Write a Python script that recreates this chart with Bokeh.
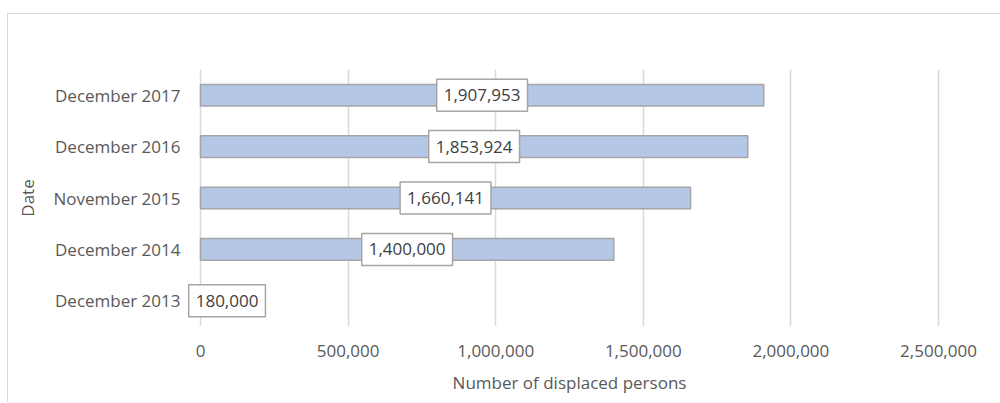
from bokeh.plotting import figure
from bokeh.models import (FactorRange, Range1d, ColumnDataSource, NumeralTickFormatter,
                          FixedTicker, Label, GlobalInlineStyleSheet)
from bokeh.embed import file_html
from bokeh.resources import INLINE

dates = ["December 2013", "December 2014", "November 2015", "December 2016", "December 2017"]
displaced = [180000, 1400000, 1660141, 1853924, 1907953]
x_ticks = [0, 500000, 1000000, 1500000, 2000000, 2500000]

FONT = "Open Sans"
TXT = "#595959"

src = ColumnDataSource(dict(date=dates, val=displaced))

# value axis padded by 20 px on both sides so labels near 0 are not clipped
x_max = x_ticks[-1]
pad = x_max * 20 / 738

y_range = FactorRange(*dates, range_padding=0)
p = figure(width=1000, height=389, output_backend="svg", toolbar_location=None,
           y_range=y_range,
           x_range=Range1d(-pad, x_max + pad),
           min_border_left=172, min_border_right=50, min_border_top=55, min_border_bottom=77)
p.margin = (13, 0, 0, 7)
p.styles = {"border-top": "1px solid #D9D9D9", "border-left": "1px solid #D9D9D9"}
p.stylesheets = [GlobalInlineStyleSheet(css="html, body { overflow: hidden; margin: 0; }")]
p.outline_line_color = None
p.background_fill_color = "white"
p.border_fill_color = "white"

p.hbar(y="date", right="val", left=0, height=0.42, source=src,
       fill_color="#B4C7E7", line_color="#A5A5A5", line_width=1.5)

# category centres on the factor range's synthetic axis (factor i sits at i + 0.5)
for i, (d, v) in enumerate(zip(dates, displaced)):
    p.add_layout(Label(x=v / 2, y=i + 0.5, text=f"{v:,}",
                       text_align="center", text_baseline="middle",
                       text_font=FONT, text_font_size="17px", text_color="#404040",
                       background_fill_color="white", border_line_color="#A5A5A5",
                       border_line_width=1.5, padding=(7, 10)))

p.xaxis.ticker = FixedTicker(ticks=x_ticks)
p.xaxis.formatter = NumeralTickFormatter(format="0,0")
p.xaxis.axis_label = "Number of displaced persons"
p.yaxis.axis_label = "Date"
for ax in (p.xaxis, p.yaxis):
    ax.axis_line_color = None
    ax.major_tick_line_color = None
    ax.minor_tick_line_color = None
    ax.major_tick_out = 0
    ax.major_tick_in = 0
    ax.minor_tick_out = 0
    ax.major_label_text_font = FONT
    ax.major_label_text_font_size = "17px"
    ax.major_label_text_color = TXT
    ax.axis_label_text_font = FONT
    ax.axis_label_text_font_size = "17px"
    ax.axis_label_text_font_style = "normal"
    ax.axis_label_text_color = TXT
p.xaxis.major_label_standoff = 18
p.xaxis.axis_label_standoff = 11
p.yaxis.major_label_standoff = 0
p.yaxis.axis_label_standoff = 12

p.xgrid.ticker = FixedTicker(ticks=x_ticks)
p.xgrid.grid_line_color = "#D9D9D9"
p.xgrid.grid_line_width = 1.5
p.ygrid.grid_line_color = None

open("out.html", "w").write(file_html(p, INLINE))
